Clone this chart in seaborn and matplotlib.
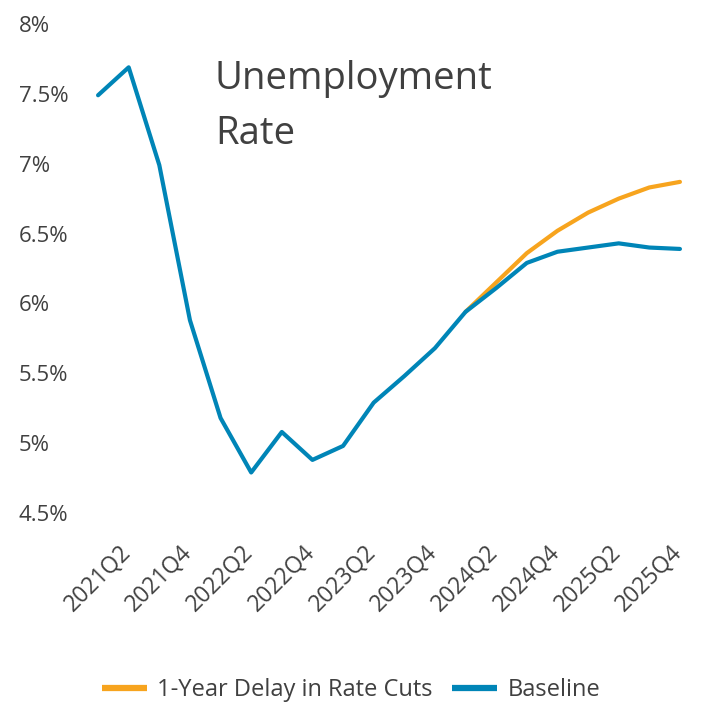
import pandas as pd
import numpy as np
import matplotlib
matplotlib.use('Agg')
import matplotlib.pyplot as plt
import seaborn as sns

quarters = ['2021Q2', '2021Q3', '2021Q4', '2022Q1', '2022Q2', '2022Q3', '2022Q4',
            '2023Q1', '2023Q2', '2023Q3', '2023Q4', '2024Q1', '2024Q2', '2024Q3',
            '2024Q4', '2025Q1', '2025Q2', '2025Q3', '2025Q4', '2026Q1']
baseline = [7.49, 7.69, 6.99, 5.88, 5.18, 4.79, 5.08, 4.88, 4.98, 5.29,
            5.48, 5.68, 5.94, 6.11, 6.29, 6.37, 6.40, 6.43, 6.40, 6.39]
delay = [np.nan] * 12 + [5.94, 6.15, 6.36, 6.52, 6.65, 6.75, 6.83, 6.87]

label_delay = '1-Year Delay in Rate Cuts'
label_base = 'Baseline'
colors = {label_delay: '#F7A41E', label_base: '#0085B7'}
text_color = '#404040'

df = pd.concat([
    pd.DataFrame({'quarter': quarters, 'rate': baseline, 'scenario': label_base}),
    pd.DataFrame({'quarter': quarters, 'rate': delay, 'scenario': label_delay}),
], ignore_index=True)

sns.set_theme(style='white')
plt.rcParams['font.family'] = ['Open Sans', 'DejaVu Sans']

W, H = 702, 705
fig = plt.figure(figsize=(W / 100, H / 100), dpi=100)
ax = fig.add_axes([95 / W, 1 - 513 / H, 588 / W, (513 - 24) / H])

sns.lineplot(data=df, x='quarter', y='rate', hue='scenario',
             hue_order=[label_delay, label_base], palette=colors,
             linewidth=3, ax=ax, legend=False, sort=False)

ax.set_xlim(-0.1, len(quarters) - 0.9)
ax.set_ylim(4.5, 8)
ax.set_yticks(np.arange(4.5, 8.01, 0.5))
ax.set_yticklabels([f'{v:g}%' for v in np.arange(4.5, 8.01, 0.5)],
                   ha='left', fontsize=16, color=text_color)
ax.tick_params(axis='y', length=0, pad=55)

ax.set_xticks(quarters[::2])
ax.set_xticklabels(quarters[::2], rotation=45, ha='center', fontsize=16.5,
                   color=text_color)
ax.tick_params(axis='x', length=0, pad=20)
ax.set_xlabel('')
ax.set_ylabel('')
sns.despine(ax=ax, left=True, bottom=True)

fig.text(215 / W, 1 - 60 / H, 'Unemployment\nRate', fontsize=27.5,
         color=text_color, ha='left', va='top', linespacing=1.6)

handles = [plt.Line2D([], [], color=colors[label_delay], lw=4.5, solid_capstyle='butt'),
           plt.Line2D([], [], color=colors[label_base], lw=4.5, solid_capstyle='butt')]
fig.legend(handles, [label_delay, label_base], loc='center',
           bbox_to_anchor=(0.5, 1 - 690 / H), ncol=2, frameon=False,
           fontsize=17, handlelength=1.9, handletextpad=0.45,
           columnspacing=0.8, labelcolor=text_color)

fig.savefig('out.png', dpi=100)
